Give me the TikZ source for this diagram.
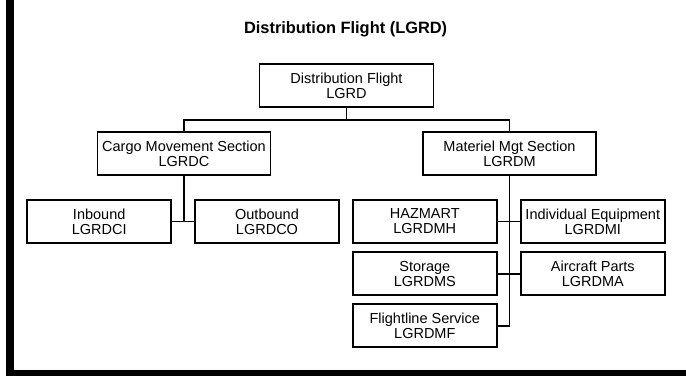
\documentclass[tikz,border=0pt]{standalone}
\usepackage{fontspec}
\setmainfont{Liberation Sans}
\begin{document}
\begin{tikzpicture}[x=1pt,y=-1pt,
  orgbox/.style={draw=black, line width=1.8pt, inner sep=0pt, align=center,
    font=\fontsize{14.5}{15}\selectfont, minimum height=43pt},
  leaf/.style={orgbox, minimum width=144pt},
  mid/.style={orgbox, minimum width=173pt},
  link/.style={draw=black, line width=1.8pt},
  titletext/.style={font=\fontsize{16.4}{18}\selectfont\bfseries, inner sep=0pt}]
\useasboundingbox (0,0) rectangle (686,376);
% frame
\fill[black] (6,0) rectangle (14,376);
\fill[black] (6,370) rectangle (686,376);
% title
\node[titletext, anchor=base] (title) at (345.6,33.3) {Distribution Flight (LGRD)};
% boxes
\node[orgbox, minimum width=174pt] (top) at (346.5,85.7) {Distribution Flight\\LGRD};
\node[mid] (cargo) at (184,153.8) {Cargo Movement Section\\LGRDC};
\node[mid] (mat) at (509.5,153.8) {Materiel Mgt Section\\LGRDM};
\node[leaf] (inb) at (99.2,221.5) {Inbound\\LGRDCI};
\node[leaf] (outb) at (267,221.5) {Outbound\\LGRDCO};
\node[leaf] (haz) at (424.8,221.5) {HAZMART\\LGRDMH};
\node[leaf] (indiv) at (592.8,221.5) {Individual Equipment\\LGRDMI};
\node[leaf] (stor) at (424.8,273.8) {Storage\\LGRDMS};
\node[leaf] (air) at (592.8,273.8) {Aircraft Parts\\LGRDMA};
\node[leaf] (flt) at (424.8,325.8) {Flightline Service\\LGRDMF};
% connectors
\coordinate (j) at (346.5,120);
\draw[link] (top.south) -- (j);
\draw[link] (cargo.north) |- (j) -| (mat.north);
\draw[link] (cargo.south) |- (inb.east);
\draw[link] (inb.east) -- (outb.west);
\draw[link] (mat.south) |- (flt.east);
\draw[link] (haz.east) -- (indiv.west);
\draw[link] (stor.east) -- (air.west);
\end{tikzpicture}
\end{document}
